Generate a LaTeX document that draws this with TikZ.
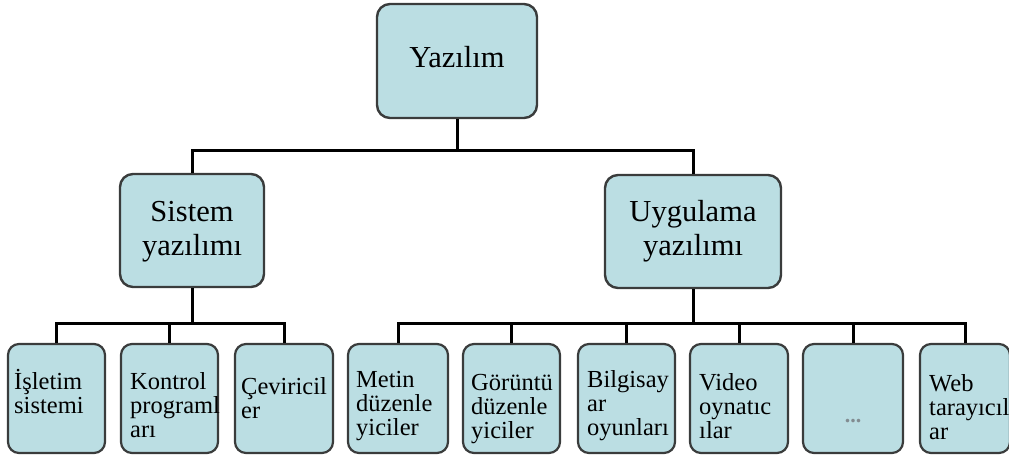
\documentclass[tikz,border=0pt]{standalone}
\usepackage{fontspec}
\setmainfont{Liberation Serif}
\definecolor{boxfill}{RGB}{187,222,227}
\definecolor{boxline}{RGB}{58,60,60}
\definecolor{dotgray}{RGB}{130,140,145}
\tikzset{
  box/.style={draw=boxline, line width=2.4pt, fill=boxfill, rounded corners=13pt, inner sep=0pt},
  smallbox/.style={draw=boxline, line width=2.2pt, fill=boxfill, rounded corners=11pt, inner sep=0pt},
  bigtext/.style={font=\fontsize{30.5}{34}\selectfont, align=center, inner sep=0pt},
  smalltext/.style={font=\fontsize{24.5}{24}\selectfont, anchor=base west, inner sep=0pt},
  conn/.style={line width=3pt, black, line join=miter}
}
\newcommand{\bbox}[6]{% name, left, top, right, bottom, style
  \node[#6, minimum width={(#4-#2)*1pt}, minimum height={(#5-#3)*1pt}] (#1) at ({(#2+#4)/2},{(#3+#5)/2}) {};
}
\newcommand{\lines}[1]{\begin{tabular}[t]{@{}l@{}}#1\end{tabular}}
\begin{document}
\begin{tikzpicture}[x=1pt,y=-1pt]
\useasboundingbox (0,0) rectangle (1009,459);
\coordinate (j0) at (457,150);
\coordinate (j1) at (192,323);
\coordinate (j2) at (693,323);
% boxes
\bbox{top}{377}{4}{537}{118}{box}
\bbox{sis}{120}{174}{264}{287}{box}
\bbox{uyg}{605}{175}{781}{288}{box}
\bbox{b1}{8}{344}{105}{453}{smallbox}
\bbox{b2}{121}{344}{218}{453}{smallbox}
\bbox{b3}{235}{344}{333}{453}{smallbox}
\bbox{b4}{348}{344}{448}{453}{smallbox}
\bbox{b5}{463}{344}{560}{453}{smallbox}
\bbox{b6}{578}{344}{675}{453}{smallbox}
\bbox{b7}{690}{344}{788}{453}{smallbox}
\bbox{b8}{803}{344}{903}{453}{smallbox}
\bbox{b9}{920}{344}{1010}{453}{smallbox}
% connectors
\draw[conn] (top.south) -- (j0);
\draw[conn] (sis.north) |- (uyg.north |- j0) -- (uyg.north);
\draw[conn] (sis.south) -- (j1);
\draw[conn] (b1.north) |- (b3.north |- j1) -- (b3.north);
\draw[conn] (b2.north) -- (b2.north |- j1);
\draw[conn] (uyg.south) -- (j2);
\draw[conn] (b4.north) |- (b9.north |- j2) -- (b9.north);
\draw[conn] (b5.north) -- (b5.north |- j2);
\draw[conn] (b6.north) -- (b6.north |- j2);
\draw[conn] (b7.north) -- (b7.north |- j2);
\draw[conn] (b8.north) -- (b8.north |- j2);
% texts
\node[bigtext] (ttop) at (457,57) {Yazılım};
\node[bigtext] (tsis) at (192,232) {Sistem\\yazılımı};
\node[bigtext] (tuyg) at (693,231) {Uygulama\\yazılımı};
\node[smalltext] (t1) at (14,389) {\lines{İşletim\\sistemi}};
\node[smalltext] (t2) at (130,389) {\lines{Kontrol\\programl\\arı}};
\node[smalltext] (t3) at (241,394) {\lines{Çeviricil\\er}};
\node[smalltext] (t4) at (356,387) {\lines{Metin\\düzenle\\yiciler}};
\node[smalltext] (t5) at (471,390) {\lines{Görüntü\\düzenle\\yiciler}};
\node[smalltext] (t6) at (587,387) {\lines{Bilgisay\\ar\\oyunları}};
\node[smalltext] (t7) at (699,390) {\lines{Video\\oynatıc\\ılar}};
\node[font=\fontsize{22}{22}\selectfont\bfseries, text=dotgray, inner sep=0pt] (t8) at (b8.center |- 0,421) {...};
\node[smalltext] (t9) at (929,391) {\lines{Web\\tarayıcıl\\ar}};
\end{tikzpicture}
\end{document}
